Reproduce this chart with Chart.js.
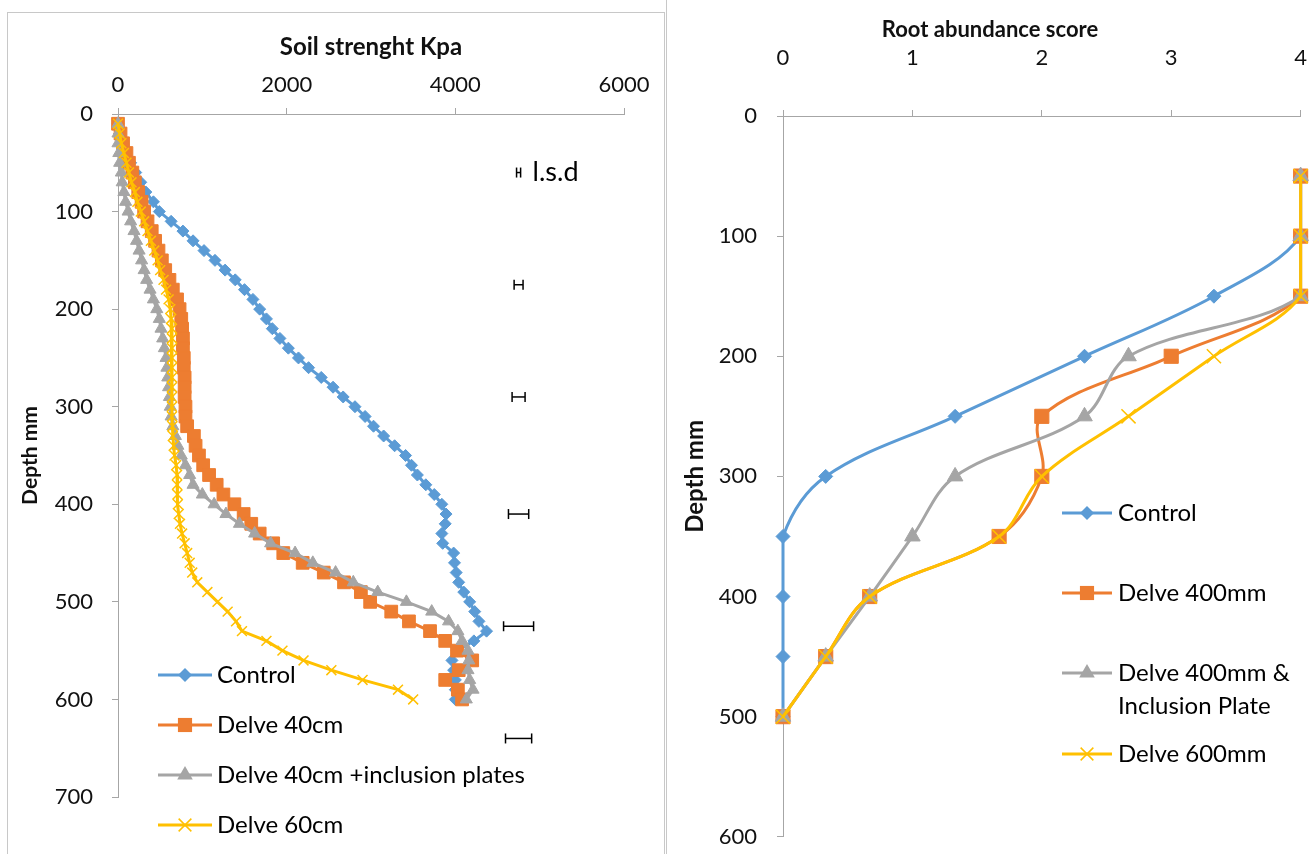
<!DOCTYPE html>
<html>
<head>
<meta charset="utf-8">
<script src="https://cdn.jsdelivr.net/npm/chart.js@4.4.0/dist/chart.umd.min.js"></script>
<style>
  body { margin: 0; background: #fff; width: 1314px; height: 854px; overflow: hidden; position: relative; }
  #leftPanel { position: absolute; left: 7px; top: 12px; width: 656px; height: 870px; border: 1px solid #c8c8c8; }
  #rightPanel { position: absolute; left: 666px; top: -10px; width: 640px; height: 900px; border-left: 1px solid #c8c8c8; }
  canvas { position: absolute; }
  #soil { left: 8px; top: 13px; }
  #roots { left: 634px; top: 0px; }
</style>
</head>
<body>
<div id="leftPanel"></div>
<div id="rightPanel"></div>
<canvas id="soil" width="655" height="841"></canvas>
<canvas id="roots" width="712" height="870"></canvas>
<script>
// ---- soil strength (left panel) ----
const depthLeft = [10, 20, 30, 40, 50, 60, 70, 80, 90, 100,
  110, 120, 130, 140, 150, 160, 170, 180, 190, 200,
  210, 220, 230, 240, 250, 260, 270, 280, 290, 300,
  310, 320, 330, 340, 350, 360, 370, 380, 390, 400,
  410, 420, 430, 440, 450, 460, 470, 480, 490, 500,
  510, 520, 530, 540, 550, 560, 570, 580, 590, 600];

const controlKpa = [0, 20, 50, 90, 150, 210, 270, 330, 420, 490,
  630, 770, 890, 1020, 1150, 1270, 1390, 1500, 1600, 1680,
  1760, 1830, 1920, 2020, 2140, 2260, 2410, 2550, 2670, 2810,
  2930, 3030, 3150, 3280, 3410, 3480, 3550, 3650, 3750, 3840,
  3890, 3880, 3840, 3850, 3980, 3990, 4010, 4040, 4100, 4170,
  4230, 4280, 4370, 4220, 4020, 3960, 3980, 4000, 4000, 4000];

const delve40Kpa = [0, 30, 60, 100, 130, 170, 200, 240, 280, 310,
  350, 400, 440, 480, 520, 560, 610, 650, 700, 730,
  750, 760, 770, 770, 780, 780, 790, 790, 790, 800,
  800, 820, 900, 920, 960, 1010, 1080, 1170, 1250, 1380,
  1490, 1580, 1680, 1840, 1960, 2190, 2440, 2680, 2880, 2990,
  3240, 3450, 3700, 3880, 4020, 4200, 4040, 3880, 4030, 4080];

const delve40PlatesKpa = [0, 0, 0, 10, 20, 40, 50, 70, 90, 120,
  150, 190, 220, 250, 280, 310, 340, 380, 420, 460,
  490, 510, 530, 550, 570, 580, 590, 600, 610, 620,
  630, 650, 680, 710, 750, 800, 850, 890, 1000, 1140,
  1280, 1440, 1620, 1810, 2100, 2310, 2580, 2790, 3080, 3420,
  3720, 3920, 4030, 4080, 4150, 4160, 4150, 4170, 4210, 4130];

const delve60Kpa = [0, 20, 40, 70, 100, 130, 160, 200, 230, 270,
  310, 350, 390, 430, 470, 500, 540, 570, 600, 620,
  630, 640, 640, 640, 640, 640, 640, 640, 640, 640,
  640, 645, 650, 660, 670, 690, 700, 700, 705, 710,
  720, 735, 760, 790, 820, 850, 880, 940, 1060, 1180,
  1300, 1400, 1470, 1760, 1950, 2200, 2530, 2900, 3320, 3500];

const lsdDepth = [60, 175, 290, 410, 525, 640];
const lsdRange = [48, 106, 154, 240, 356, 310];
const lsdCentre = 4750;

// ---- root abundance (right panel) ----
const depthRight = [50, 100, 150, 200, 250, 300, 350, 400, 450, 500];
const controlScore = [4, 4, 3.33, 2.33, 1.33, 0.33, 0, 0, 0, 0];
const delve400Score = [4, 4, 4, 3, 2, 2, 1.67, 0.67, 0.33, 0];
const delve400PlateScore = [4, 4, 4, 2.67, 2.33, 1.33, 1, 0.67, 0.33, 0];
const delve600Score = [4, 4, 4, 3.33, 2.67, 2, 1.67, 0.67, 0.33, 0];

const leftNames = ['Control', 'Delve 40cm', 'Delve 40cm +inclusion plates', 'Delve 60cm'];
const rightNames = ['Control', 'Delve 400mm', 'Delve 400mm & Inclusion Plate', 'Delve 600mm'];

const BLUE = '#5B9BD5', ORANGE = '#ED7D31', GREY = '#A5A5A5', GOLD = '#FFC000';
const FONT = 'Lato, "DejaVu Sans", sans-serif';

Chart.defaults.font.family = FONT;
Chart.defaults.color = '#111';

function series(label, values, depths, colour, style, radius, order, tension) {
    return {
        label: label,
        data: values.map((v, i) => ({x: v, y: depths[i]})),
        showLine: true,
        borderColor: colour,
        backgroundColor: colour,
        borderWidth: 3,
        pointStyle: style,
        pointRadius: radius,
        pointBackgroundColor: colour,
        pointBorderColor: colour,
        pointBorderWidth: style === 'crossRot' ? 1.5 : 1,
        tension: tension,
        order: order,
        clip: false
    };
}

function drawMarker(ctx, style, x, y, r, colour) {
    ctx.save();
    ctx.fillStyle = colour;
    ctx.strokeStyle = colour;
    ctx.lineWidth = 1.5;
    ctx.beginPath();
    if (style === 'rectRot') {
        ctx.moveTo(x, y - r); ctx.lineTo(x + r, y); ctx.lineTo(x, y + r); ctx.lineTo(x - r, y);
        ctx.closePath(); ctx.fill();
    } else if (style === 'rect') {
        const s = r * Math.SQRT1_2;
        ctx.rect(x - s, y - s, 2 * s, 2 * s); ctx.fill();
    } else if (style === 'triangle') {
        ctx.moveTo(x, y - r); ctx.lineTo(x + r * 0.866, y + r / 2); ctx.lineTo(x - r * 0.866, y + r / 2);
        ctx.closePath(); ctx.fill();
    } else {
        const s = r * Math.SQRT1_2;
        ctx.moveTo(x - s, y - s); ctx.lineTo(x + s, y + s);
        ctx.moveTo(x + s, y - s); ctx.lineTo(x - s, y + s);
        ctx.stroke();
    }
    ctx.restore();
}

function wrapText(ctx, text, maxWidth) {
    if (!maxWidth) return [text];
    const words = text.split(' ');
    const lines = [];
    let line = '';
    words.forEach(w => {
        const test = line ? line + ' ' + w : w;
        if (line && ctx.measureText(test).width > maxWidth) {
            lines.push(line);
            line = w;
        } else {
            line = test;
        }
    });
    lines.push(line);
    return lines;
}

// excel-like legend: line sample with marker in the middle, text on the right
const excelLegend = {
    id: 'excelLegend',
    afterDraw(chart, args, opts) {
        const ctx = chart.ctx;
        ctx.save();
        ctx.font = opts.font;
        ctx.textBaseline = 'middle';
        opts.rows.forEach((rowY, i) => {
            const ds = chart.data.datasets[i];
            ctx.strokeStyle = ds.borderColor;
            ctx.lineWidth = ds.borderWidth;
            ctx.beginPath();
            ctx.moveTo(opts.lineFrom, rowY);
            ctx.lineTo(opts.lineTo, rowY);
            ctx.stroke();
            drawMarker(ctx, ds.pointStyle, (opts.lineFrom + opts.lineTo) / 2, rowY, opts.marker[i], ds.pointBackgroundColor);
            ctx.fillStyle = '#000';
            wrapText(ctx, ds.label, opts.wrapWidth).forEach((t, k) => {
                ctx.fillText(t, opts.textX, rowY + k * opts.lineGap);
            });
        });
        ctx.restore();
    }
};

const lsdLabel = {
    id: 'lsdLabel',
    afterDatasetsDraw(chart, args, opts) {
        if (!opts.text) return;
        const ctx = chart.ctx;
        const x = chart.scales.x.getPixelForValue(lsdCentre);
        const y = chart.scales.y.getPixelForValue(lsdDepth[0]);
        ctx.save();
        ctx.font = opts.font;
        ctx.fillStyle = '#000';
        ctx.textBaseline = 'middle';
        ctx.fillText(opts.text, x + opts.offset, y);
        ctx.restore();
    }
};

const lsdBars = lsdDepth.map((d, i) => ({
    label: 'l.s.d',
    data: [{x: lsdCentre - lsdRange[i] / 2, y: d}, {x: lsdCentre + lsdRange[i] / 2, y: d}],
    showLine: true,
    borderColor: '#000',
    borderWidth: 1.5,
    pointStyle: 'line',
    rotation: 90,
    pointRadius: 5,
    pointBorderColor: '#000',
    pointBorderWidth: 1.5,
    order: 0,
    clip: false
}));

function axisStyle(extra) {
    return Object.assign({
        type: 'linear',
        grid: { drawOnChartArea: false, drawTicks: true, tickLength: 6, color: '#a6a6a6' },
        border: { display: true, color: '#a6a6a6', width: 1 }
    }, extra);
}

const plain = v => String(v);

new Chart(document.getElementById('soil'), {
    type: 'scatter',
    data: {
        datasets: [
            series(leftNames[0], controlKpa, depthLeft, BLUE, 'rectRot', 6, 4, 0),
            series(leftNames[1], delve40Kpa, depthLeft, ORANGE, 'rect', 9, 3, 0),
            series(leftNames[2], delve40PlatesKpa, depthLeft, GREY, 'triangle', 7, 2, 0),
            series(leftNames[3], delve60Kpa, depthLeft, GOLD, 'crossRot', 7, 1, 0)
        ].concat(lsdBars)
    },
    options: {
        responsive: false,
        animation: false,
        layout: { padding: { left: 0, top: 0, right: 39, bottom: 57 } },
        plugins: {
            legend: { display: false },
            tooltip: { enabled: false },
            excelLegend: {
                font: '24px ' + FONT,
                rows: [662, 712, 762, 812],
                marker: [7, 10, 9, 9],
                lineFrom: 150, lineTo: 204, textX: 209, lineGap: 30
            },
            lsdLabel: { text: 'l.s.d', font: '27px ' + FONT, offset: 14 }
        },
        scales: {
            x: axisStyle({
                position: 'top', min: 0, max: 6000,
                ticks: { stepSize: 2000, padding: 10, font: { size: 22 }, callback: plain },
                title: { display: true, text: 'Soil strenght Kpa', font: { size: 24, weight: 'bold' }, padding: { top: 20, bottom: 0 } },
                afterFit: s => { s.height = 101; }
            }),
            y: axisStyle({
                reverse: true, min: 0, max: 700,
                ticks: { stepSize: 100, padding: 19, font: { size: 22 }, callback: plain },
                title: { display: true, text: 'Depth mm', font: { size: 21, weight: 'bold' }, padding: { top: 10, bottom: 0 } },
                afterFit: s => { s.width = 110; }
            })
        }
    },
    plugins: [excelLegend, lsdLabel]
});

new Chart(document.getElementById('roots'), {
    type: 'scatter',
    data: {
        datasets: [
            series(rightNames[0], controlScore, depthRight, BLUE, 'rectRot', 7, 4, 0.35),
            series(rightNames[1], delve400Score, depthRight, ORANGE, 'rect', 10, 3, 0.35),
            series(rightNames[2], delve400PlateScore, depthRight, GREY, 'triangle', 9, 2, 0.35),
            series(rightNames[3], delve600Score, depthRight, GOLD, 'crossRot', 10, 1, 0.35)
        ]
    },
    options: {
        responsive: false,
        animation: false,
        layout: { padding: { left: 0, top: 0, right: 0, bottom: 27 } },
        plugins: {
            legend: { display: false },
            tooltip: { enabled: false },
            title: {
                display: true, text: 'Root abundance score', color: '#111',
                font: { size: 22, weight: 'bold' }, padding: { top: 17, bottom: 0 }
            },
            excelLegend: {
                font: '24px ' + FONT,
                rows: [513, 593, 673, 754],
                marker: [7, 10, 9, 9],
                lineFrom: 428, lineTo: 478, textX: 484, lineGap: 33, wrapWidth: 185
            }
        },
        scales: {
            x: axisStyle({
                position: 'top', min: 0, max: 4,
                ticks: { stepSize: 1, padding: 39, font: { size: 22 }, callback: plain },
                afterFit: s => { s.height = 72.6; }
            }),
            y: axisStyle({
                reverse: true, min: 0, max: 600,
                ticks: { stepSize: 100, padding: 20, font: { size: 22 }, callback: plain },
                title: { display: true, text: 'Depth mm', font: { size: 24, weight: 'bold' }, padding: { top: 47, bottom: 0 } },
                afterFit: s => { s.width = 149; }
            })
        }
    },
    plugins: [excelLegend]
});
</script>
</body>
</html>
